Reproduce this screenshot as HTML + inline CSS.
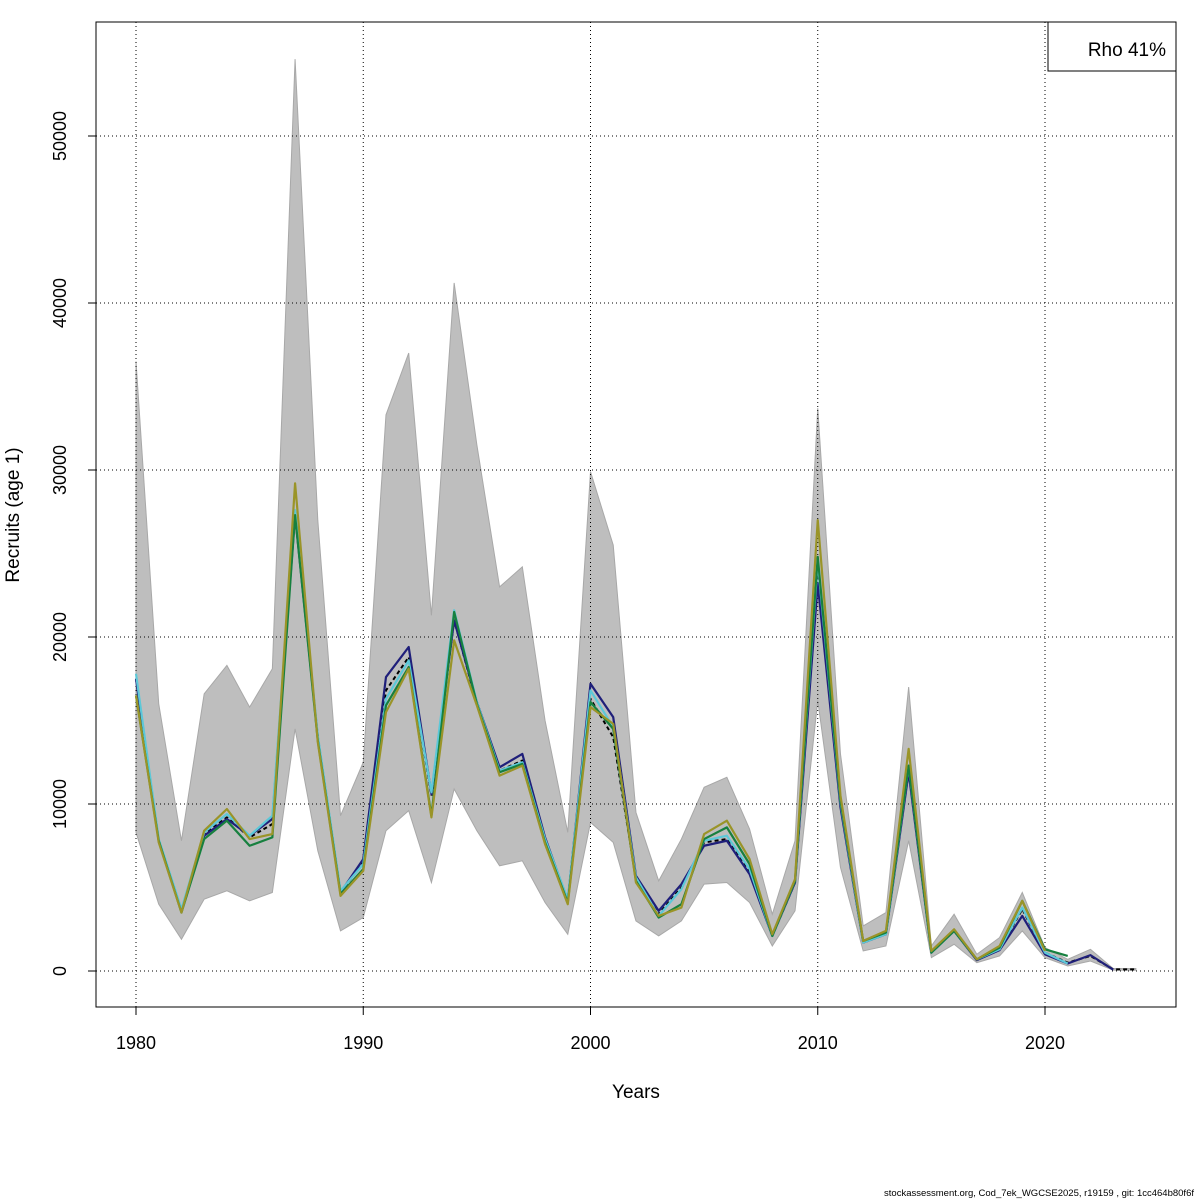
<!DOCTYPE html>
<html><head><meta charset="utf-8"><style>
html,body{margin:0;padding:0;background:#fff;}
svg{display:block;font-family:"Liberation Sans",Arial,sans-serif;}
</style></head><body>
<svg id="chart" width="1200" height="1200" viewBox="0 0 1200 1200"></svg>
<script>
const years = [];
for (let y = 1980; y <= 2024; y++) years.push(y);
const upper = [36500,16000,7800,16600,18300,15800,18100,54600,27000,9300,12500,33300,37000,21300,41200,31500,23000,24200,15000,8300,29900,25500,9500,5400,7900,11000,11600,8500,3400,7800,33700,13000,2700,3500,17000,1500,3400,1000,2000,4700,1400,700,1300,150,150];
const lower = [8300,4000,1900,4300,4800,4200,4700,14500,7200,2400,3200,8400,9600,5300,10900,8400,6300,6600,4100,2200,8900,7700,3000,2100,3000,5200,5300,4100,1500,3600,16200,6200,1200,1500,7800,800,1600,500,900,2400,800,300,600,50,50];
const base = [17500,7800,3600,8200,9200,8000,8800,27500,14000,4700,6500,16800,18800,10500,21000,16000,12000,12600,7800,4200,16300,14000,5500,3400,5000,7700,7900,6000,2100,5300,24000,10000,1700,2200,12200,1100,2400,700,1300,3700,1100,500,900,100,100];
const peelNavy = [17500,7800,3600,8100,9100,8100,9100,27300,14000,4700,6700,17600,19400,10600,21000,16100,12200,13000,8000,4200,17200,15200,5700,3600,5200,7500,7800,5800,2100,5300,23200,9800,1700,2200,11900,1100,2400,650,1250,3300,1000,450,950,80,null];
const peelCyan = [17800,7900,3700,8300,9400,8100,9300,27600,14100,4800,6400,16300,18600,10700,21600,16100,12000,12500,7900,4300,16800,14600,5600,3300,4900,7800,8100,6100,2100,5400,24500,10100,1700,2200,12300,1100,2400,700,1300,3800,1100,450,null,null,null];
const peelGreen = [16500,7800,3500,7900,9000,7500,8000,27300,13800,4600,6100,15900,18200,9300,21500,16000,11900,12400,7700,4100,16100,14500,5400,3200,4000,7900,8600,6400,2100,5400,24800,10200,1800,2300,12300,1100,2400,700,1400,4200,1300,900,null,null,null];
const peelOlive = [16500,7700,3500,8400,9700,7900,8200,29200,13700,4500,6000,15500,18100,9200,19800,15900,11700,12300,7600,4000,15800,14800,5300,3300,3800,8200,9000,6700,2200,5500,27000,10500,1800,2400,13300,1200,2500,700,1500,4200,1200,null,null,null,null];
const xTicks = [1980,1990,2000,2010,2020];
const yTicks = [0,10000,20000,30000,40000,50000];

const NS = "http://www.w3.org/2000/svg";
const svg = document.getElementById("chart");
const L = 96, R = 1176, T = 22, B = 1007;
const xS = y => 136 + (y - 1980) * (1045 - 136) / 40;
const yS = v => 971 - v * (971 - 136) / 50000;
function mk(tag, attrs, parent) {
  const e = document.createElementNS(NS, tag);
  for (const k in attrs) e.setAttribute(k, attrs[k]);
  (parent || svg).appendChild(e);
  return e;
}
let d = "";
years.forEach((y, i) => { d += (i ? "L" : "M") + xS(y) + "," + yS(upper[i]); });
for (let i = years.length - 1; i >= 0; i--) d += "L" + xS(years[i]) + "," + yS(lower[i]);
const band = mk("path", {d: d + "Z", fill: "#bebebe", stroke: "#a8a8a8", "stroke-width": 1});


xTicks.forEach(t => {
  const g = mk("line", {x1: xS(t), x2: xS(t), y1: T, y2: B, stroke: "#000", "stroke-dasharray": "1,3", "stroke-width": 1});
  
  
});
yTicks.forEach(t => {
  const g = mk("line", {x1: L, x2: R, y1: yS(t), y2: yS(t), stroke: "#000", "stroke-dasharray": "1,3", "stroke-width": 1});
  
  
});
function line(arr, color, w, dash, name) {
  let p = "", started = false;
  arr.forEach((v, i) => {
    if (v === null) return;
    p += (started ? "L" : "M") + xS(years[i]) + "," + yS(v);
    started = true;
  });
  const e = mk("path", {d: p, fill: "none", stroke: color, "stroke-width": w, "stroke-linejoin": "round"});
  if (dash) e.setAttribute("stroke-dasharray", dash);
  
  
}
line(base, "#000", 2, "4,3", "base-estimate-line");
line(peelNavy, "#1f1f7a", 2.2, null, "peel-line-2023");
line(peelCyan, "#5cc8d8", 2.2, null, "peel-line-2022");
line(peelGreen, "#17803f", 2.2, null, "peel-line-2021");
line(peelOlive, "#9a9428", 2.2, null, "peel-line-2020");
const fr = mk("rect", {x: L, y: T, width: R - L, height: B - T, fill: "none", stroke: "#000", "stroke-width": 1});


xTicks.forEach(t => {
  mk("line", {x1: xS(t), x2: xS(t), y1: B, y2: B + 8, stroke: "#000"});
  const tx = mk("text", {x: xS(t), y: B + 42, "text-anchor": "middle", "font-size": 18});
  tx.textContent = t;
  
  
});
mk("line", {x1: xS(1980), x2: xS(2020), y1: B, y2: B, stroke: "#000"});
yTicks.forEach(t => {
  mk("line", {x1: L, x2: L - 8, y1: yS(t), y2: yS(t), stroke: "#000"});
  const tx = mk("text", {x: 66, y: yS(t), "text-anchor": "middle", "font-size": 18, transform: "rotate(-90 66 " + yS(t) + ")"});
  tx.textContent = t;
  
  
});
const xt = mk("text", {x: 636, y: 1098, "text-anchor": "middle", "font-size": 19});
xt.textContent = "Years";


const yt = mk("text", {x: 19, y: 515, "text-anchor": "middle", "font-size": 19, transform: "rotate(-90 19 515)"});
yt.textContent = "Recruits (age 1)";


const lg = mk("rect", {x: 1048, y: 22, width: 128, height: 49, fill: "#fff", stroke: "#000"});


const lt = mk("text", {x: 1166, y: 56, "text-anchor": "end", "font-size": 19});
lt.textContent = "Rho 41%";


const ft = mk("text", {x: 1194, y: 1196, "text-anchor": "end", "font-size": 9.5});
ft.textContent = "stockassessment.org, Cod_7ek_WGCSE2025, r19159 , git: 1cc464b80f6f";


</script>
</body></html>
